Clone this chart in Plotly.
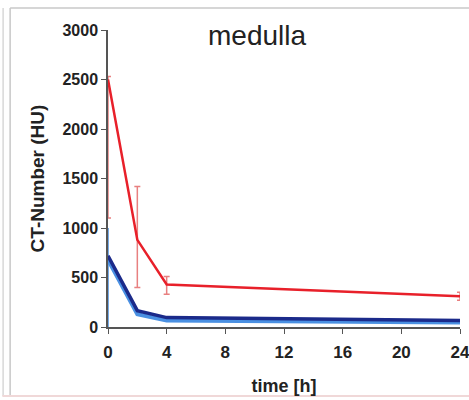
import plotly.graph_objects as go

time_h = [0, 2, 4, 24]
red_vals = [2500, 880, 430, 310]
red_err_plus = [30, 540, 80, 40]
red_err_minus = [1400, 480, 100, 40]
dark_vals = [720, 165, 95, 65]
light_vals = [680, 130, 65, 45]
light_err_plus = [320, 0, 0, 0]
light_err_minus = [680, 0, 0, 0]

x_ticks = [0, 4, 8, 12, 16, 20, 24]
y_ticks = [0, 500, 1000, 1500, 2000, 2500, 3000]

FONT = "Liberation Sans, Arial"

fig = go.Figure()
fig.add_trace(go.Scatter(
    x=time_h, y=light_vals, mode="lines",
    line=dict(color="#4a90e2", width=4),
    error_y=dict(type="data", symmetric=False, array=light_err_plus,
                 arrayminus=light_err_minus, color="#4a90e2", thickness=1.5, width=0),
    showlegend=False))
fig.add_trace(go.Scatter(
    x=time_h, y=dark_vals, mode="lines",
    line=dict(color="#1b2a8a", width=3.5),
    showlegend=False))
fig.add_trace(go.Scatter(
    x=time_h, y=red_vals, mode="lines",
    line=dict(color="#e8202a", width=2.5),
    error_y=dict(type="data", symmetric=False, array=red_err_plus,
                 arrayminus=red_err_minus, color="rgba(220,60,60,0.65)", thickness=1.5, width=3),
    showlegend=False))

fig.update_layout(
    width=469, height=400,
    margin=dict(l=108, r=9, t=30, b=73),
    paper_bgcolor="white", plot_bgcolor="white",
    font=dict(family=FONT, color="#222"),
    annotations=[dict(text="medulla", x=0.423, y=0.98, xref="paper", yref="paper",
                      showarrow=False, xanchor="center", yanchor="middle",
                      font=dict(family=FONT, size=28, color="#222"))],
    shapes=[
        dict(type="line", xref="paper", yref="paper", x0=-0.278, x1=-0.278, y0=-0.232, y1=1.074,
             line=dict(color="#c8c8c8", width=1.5)),
        dict(type="line", xref="paper", yref="paper", x0=-0.298, x1=-0.298, y0=-0.232, y1=1.074,
             line=dict(color="#d8d8d8", width=1.5)),
        dict(type="line", xref="paper", yref="paper", x0=-0.278, x1=1.1, y0=1.074, y1=1.074,
             line=dict(color="#c8c8c8", width=1.5)),
        dict(type="line", xref="paper", yref="paper", x0=-0.3, x1=1.1, y0=-0.232, y1=-0.232,
             line=dict(color="#f0d8d8", width=2)),
    ],
)
fig.update_xaxes(
    range=[0, 24], tickvals=x_ticks, ticktext=["<b>%d</b>" % v for v in x_ticks],
    showgrid=False, zeroline=False, showline=True, linecolor="#555", linewidth=1.5,
    ticks="outside", ticklen=5, tickcolor="#555", ticklabelstandoff=4,
    ticklabeloverflow="allow", automargin=False,
    tickfont=dict(family=FONT, size=17, color="#222"),
    title=dict(text="<b>time [h]</b>", font=dict(family=FONT, size=18, color="#222"), standoff=18),
)
fig.update_yaxes(
    range=[0, 3000], tickvals=y_ticks, ticktext=["<b>%d</b>" % v for v in y_ticks],
    showgrid=False, zeroline=False, showline=True, linecolor="#555", linewidth=1.5,
    ticks="outside", ticklen=5, tickcolor="#555", automargin=False,
    tickfont=dict(family=FONT, size=16, color="#222"),
    title=dict(text="<b>CT-Number (HU)</b>", font=dict(family=FONT, size=19, color="#222"), standoff=13),
)
fig.write_html("out.html")
